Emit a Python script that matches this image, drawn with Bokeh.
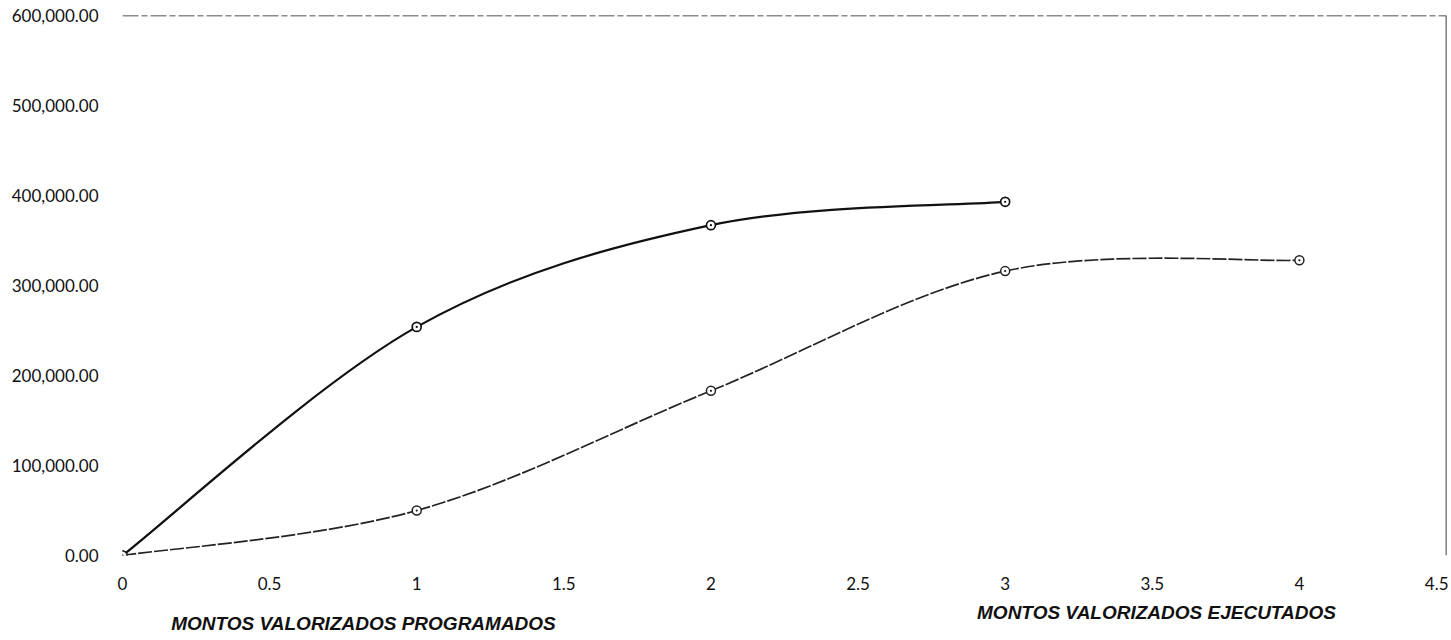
from bokeh.plotting import figure
from bokeh.layouts import column
from bokeh.models import Range1d, FixedTicker, NumeralTickFormatter, Span, Label, ColumnDataSource
from bokeh.embed import file_html
from bokeh.resources import INLINE

# ---- data ----
x_prog = [0, 1, 2, 3]
y_prog = [0, 254000, 367000, 393000]
x_ejec = [0, 1, 2, 3, 4]
y_ejec = [0, 50000, 183000, 316000, 328000]
x_ticks = [0, 0.5, 1, 1.5, 2, 2.5, 3, 3.5, 4, 4.5]
x_tick_labels = ["0", "0.5", "1", "1.5", "2", "2.5", "3", "3.5", "4", "4.5"]
y_ticks = [0, 100000, 200000, 300000, 400000, 500000, 600000]
series_names = ["MONTOS VALORIZADOS PROGRAMADOS", "MONTOS VALORIZADOS EJECUTADOS"]


def smooth_segments(xs, ys, t=1.0 / 6.0):
    n = len(xs)
    d = dict(x0=[], y0=[], x1=[], y1=[], cx0=[], cy0=[], cx1=[], cy1=[])
    for i in range(n - 1):
        ip = i - 1 if i > 0 else i
        i2 = i + 2 if i + 2 < n else i + 1
        d["x0"].append(xs[i]); d["y0"].append(ys[i])
        d["x1"].append(xs[i + 1]); d["y1"].append(ys[i + 1])
        d["cx0"].append(xs[i] + (xs[i + 1] - xs[ip]) * t)
        d["cy0"].append(ys[i] + (ys[i + 1] - ys[ip]) * t)
        d["cx1"].append(xs[i + 1] - (xs[i2] - xs[i]) * t)
        d["cy1"].append(ys[i + 1] - (ys[i2] - ys[i]) * t)
    return ColumnDataSource(d)


W = 1448
p = figure(width=W, height=593, output_backend="svg", toolbar_location=None,
           x_range=Range1d(0, 4.5), y_range=Range1d(0, 600000),
           min_border_left=122, min_border_right=2, min_border_top=15, min_border_bottom=38)
p.outline_line_color = None
p.grid.visible = False
p.background_fill_color = "white"
p.border_fill_color = "white"

font = "Lato"
for ax in (p.xaxis[0], p.yaxis[0]):
    ax.axis_line_color = None
    ax.major_tick_line_color = None
    ax.minor_tick_line_color = None
    ax.major_label_text_font = font
    ax.major_label_text_font_size = "17px"
    ax.major_label_text_color = "#111111"

p.xaxis.ticker = FixedTicker(ticks=x_ticks)
p.xaxis.major_label_overrides = {t: l for t, l in zip(x_ticks, x_tick_labels)}
p.xaxis.major_label_standoff = 15
p.yaxis.ticker = FixedTicker(ticks=y_ticks)
p.yaxis.formatter = NumeralTickFormatter(format="0,0.00")
p.yaxis.major_label_standoff = 18

# frame edges as seen in the scan
p.add_layout(Span(location=600000, dimension="width", line_color="#1a1a1a",
                  line_width=1.3, line_dash="16 3 6 3"))
p.add_layout(Span(location=4.5, dimension="height", line_color="#111111", line_width=1.6))

# smoothed series
sp = smooth_segments(x_prog, y_prog)
p.bezier(x0="x0", y0="y0", x1="x1", y1="y1", cx0="cx0", cy0="cy0", cx1="cx1", cy1="cy1",
         source=sp, line_color="#111111", line_width=2.2)
se = smooth_segments(x_ejec, y_ejec)
p.bezier(x0="x0", y0="y0", x1="x1", y1="y1", cx0="cx0", cy0="cy0", cx1="cx1", cy1="cy1",
         source=se, line_color="#222222", line_width=1.7, line_dash="14 2")

p.scatter(x_prog, y_prog, marker="circle_dot", size=9, fill_color="white",
          line_color="#111111", line_width=1.7)
p.scatter(x_ejec, y_ejec, marker="circle_dot", size=9, fill_color="white",
          line_color="#222222", line_width=1.5)

# legend strip (texts only, no keys visible in the reference); its frame is aligned with p's
FW = W - 122 - 2
q = figure(width=W, height=40, output_backend="svg", toolbar_location=None,
           x_range=Range1d(0, FW), y_range=Range1d(0, 40),
           min_border=0, min_border_left=0, min_border_right=0,
           min_border_top=0, min_border_bottom=0)
q.axis.visible = False
q.grid.visible = False
q.outline_line_color = None
for name, sx, sy in zip(series_names, [241, 1034], [10, 21]):
    q.add_layout(Label(x=sx, y=sy, text=name,
                       text_font="Liberation Sans", text_font_style="bold italic",
                       text_font_size="19px", text_align="center",
                       text_baseline="alphabetic", text_color="#111111"))

open("out.html", "w").write(file_html(column(p, q), INLINE))
